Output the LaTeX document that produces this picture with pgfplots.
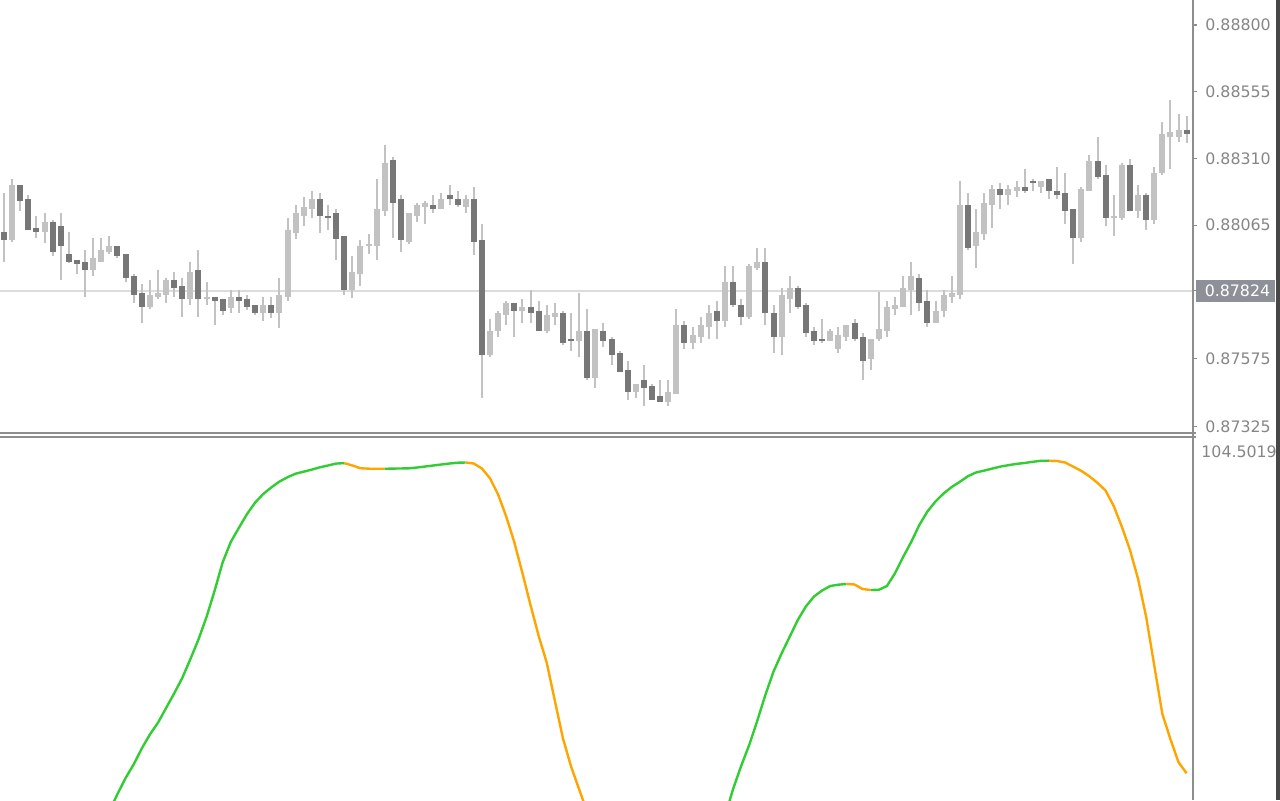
\documentclass[border=0pt]{standalone}
\usepackage{pgfplots}
\pgfplotsset{compat=1.18}
\usepackage{pgfplotstable}
\usepackage{fontspec}
\setmainfont{DejaVu Sans}
\definecolor{bull}{HTML}{C2C2C2}
\definecolor{bear}{HTML}{777777}
\definecolor{wick}{HTML}{C2C2C2}
\definecolor{frame}{HTML}{8E8E8E}
\definecolor{lab}{HTML}{868686}
\definecolor{pline}{HTML}{DCDCDC}
\definecolor{pbox}{HTML}{8D9097}
\definecolor{upc}{HTML}{32CD32}
\definecolor{dnc}{HTML}{FFA500}
\definecolor{strip}{HTML}{474747}

\pgfplotstableread{
n o h l c
1 0.88041 0.88184 0.87931 0.88011
2 0.88011 0.88235 0.88004 0.88213
3 0.88213 0.88213 0.88118 0.88155
4 0.88161 0.88176 0.88047 0.88047
5 0.88055 0.88099 0.88019 0.88041
6 0.88041 0.88111 0.87999 0.88077
7 0.88077 0.88084 0.87952 0.87968
8 0.88062 0.88111 0.87864 0.87990
9 0.87959 0.88040 0.87925 0.87931
10 0.87937 0.87937 0.87886 0.87924
11 0.87930 0.87974 0.87803 0.87902
12 0.87902 0.88018 0.87879 0.87945
13 0.87931 0.88018 0.87931 0.87974
14 0.87967 0.88025 0.87959 0.87989
15 0.87989 0.87989 0.87945 0.87952
16 0.87959 0.87959 0.87858 0.87872
17 0.87879 0.87886 0.87781 0.87810
18 0.87816 0.87849 0.87707 0.87766
19 0.87766 0.87864 0.87758 0.87809
20 0.87803 0.87901 0.87795 0.87816
21 0.87810 0.87871 0.87781 0.87864
22 0.87864 0.87893 0.87803 0.87836
23 0.87842 0.87871 0.87729 0.87795
24 0.87795 0.87930 0.87773 0.87893
25 0.87901 0.87974 0.87729 0.87795
26 0.87795 0.87858 0.87772 0.87803
27 0.87803 0.87803 0.87699 0.87788
28 0.87794 0.87794 0.87735 0.87751
29 0.87760 0.87827 0.87744 0.87803
30 0.87803 0.87827 0.87744 0.87788
31 0.87795 0.87810 0.87754 0.87766
32 0.87772 0.87772 0.87735 0.87744
33 0.87744 0.87803 0.87714 0.87772
34 0.87772 0.87803 0.87723 0.87744
35 0.87744 0.87870 0.87686 0.87809
36 0.87803 0.88090 0.87788 0.88047
37 0.88035 0.88139 0.88013 0.88109
38 0.88099 0.88170 0.88063 0.88131
39 0.88126 0.88191 0.88093 0.88161
40 0.88161 0.88184 0.88035 0.88099
41 0.88099 0.88139 0.88047 0.88093
42 0.88111 0.88124 0.87937 0.88013
43 0.88025 0.88025 0.87809 0.87827
44 0.87827 0.87952 0.87797 0.87894
45 0.87886 0.88011 0.87843 0.87989
46 0.87990 0.88033 0.87959 0.87995
47 0.87989 0.88235 0.87937 0.88125
48 0.88118 0.88360 0.88100 0.88295
49 0.88305 0.88315 0.88019 0.88148
50 0.88161 0.88176 0.87968 0.88011
51 0.88003 0.88111 0.87996 0.88111
52 0.88100 0.88148 0.88077 0.88140
53 0.88133 0.88155 0.88069 0.88148
54 0.88140 0.88176 0.88111 0.88126
55 0.88126 0.88183 0.88126 0.88161
56 0.88176 0.88213 0.88140 0.88161
57 0.88161 0.88191 0.88133 0.88140
58 0.88133 0.88176 0.88111 0.88161
59 0.88161 0.88205 0.87954 0.88004
60 0.88011 0.88069 0.87432 0.87588
61 0.87588 0.87721 0.87582 0.87677
62 0.87677 0.87751 0.87656 0.87744
63 0.87736 0.87788 0.87699 0.87781
64 0.87781 0.87781 0.87656 0.87751
65 0.87751 0.87795 0.87707 0.87766
66 0.87766 0.87827 0.87707 0.87744
67 0.87751 0.87788 0.87677 0.87677
68 0.87677 0.87773 0.87668 0.87736
69 0.87729 0.87781 0.87699 0.87744
70 0.87744 0.87751 0.87625 0.87634
71 0.87647 0.87744 0.87604 0.87641
72 0.87641 0.87817 0.87582 0.87677
73 0.87677 0.87757 0.87497 0.87505
74 0.87505 0.87684 0.87468 0.87684
75 0.87677 0.87705 0.87619 0.87641
76 0.87647 0.87653 0.87552 0.87588
77 0.87597 0.87604 0.87527 0.87527
78 0.87533 0.87566 0.87423 0.87454
79 0.87454 0.87483 0.87432 0.87483
80 0.87497 0.87552 0.87402 0.87468
81 0.87476 0.87482 0.87424 0.87424
82 0.87439 0.87497 0.87417 0.87417
83 0.87417 0.87497 0.87402 0.87454
84 0.87446 0.87757 0.87446 0.87699
85 0.87699 0.87713 0.87612 0.87634
86 0.87634 0.87690 0.87612 0.87662
87 0.87656 0.87727 0.87634 0.87699
88 0.87691 0.87772 0.87648 0.87743
89 0.87750 0.87787 0.87648 0.87713
90 0.87713 0.87915 0.87691 0.87858
91 0.87858 0.87915 0.87765 0.87772
92 0.87772 0.87794 0.87699 0.87729
93 0.87727 0.87923 0.87720 0.87915
94 0.87908 0.87980 0.87901 0.87930
95 0.87930 0.87980 0.87699 0.87743
96 0.87743 0.87772 0.87597 0.87656
97 0.87656 0.87833 0.87590 0.87809
98 0.87795 0.87879 0.87744 0.87835
99 0.87835 0.87842 0.87758 0.87766
100 0.87772 0.87781 0.87656 0.87670
101 0.87677 0.87690 0.87626 0.87641
102 0.87647 0.87721 0.87634 0.87641
103 0.87641 0.87684 0.87641 0.87678
104 0.87612 0.87691 0.87597 0.87662
105 0.87656 0.87699 0.87641 0.87699
106 0.87706 0.87721 0.87641 0.87647
107 0.87655 0.87669 0.87497 0.87567
108 0.87575 0.87647 0.87533 0.87647
109 0.87647 0.87821 0.87641 0.87684
110 0.87678 0.87787 0.87656 0.87765
111 0.87758 0.87803 0.87735 0.87772
112 0.87766 0.87879 0.87766 0.87835
113 0.87827 0.87930 0.87735 0.87879
114 0.87871 0.87886 0.87751 0.87781
115 0.87787 0.87827 0.87692 0.87707
116 0.87707 0.87787 0.87707 0.87750
117 0.87751 0.87827 0.87729 0.87809
118 0.87803 0.87879 0.87781 0.87817
119 0.87810 0.88227 0.87795 0.88139
120 0.88139 0.88183 0.87975 0.87982
121 0.87990 0.88125 0.87909 0.88040
122 0.88034 0.88183 0.88012 0.88147
123 0.88139 0.88213 0.88056 0.88198
124 0.88198 0.88220 0.88125 0.88176
125 0.88176 0.88213 0.88139 0.88198
126 0.88191 0.88227 0.88169 0.88205
127 0.88205 0.88271 0.88183 0.88191
128 0.88227 0.88235 0.88191 0.88220
129 0.88205 0.88227 0.88183 0.88227
130 0.88235 0.88235 0.88161 0.88191
131 0.88191 0.88279 0.88161 0.88176
132 0.88183 0.88257 0.88071 0.88117
133 0.88125 0.88125 0.87924 0.88019
134 0.88019 0.88205 0.88004 0.88198
135 0.88191 0.88323 0.88191 0.88301
136 0.88301 0.88389 0.88235 0.88242
137 0.88249 0.88286 0.88063 0.88093
138 0.88093 0.88176 0.88027 0.88099
139 0.88093 0.88293 0.88085 0.88286
140 0.88286 0.88308 0.88117 0.88117
141 0.88117 0.88213 0.88093 0.88176
142 0.88176 0.88183 0.88049 0.88085
143 0.88085 0.88279 0.88071 0.88257
144 0.88257 0.88444 0.88249 0.88400
145 0.88390 0.88525 0.88271 0.88407
146 0.88390 0.88473 0.88372 0.88415
147 0.88415 0.88466 0.88368 0.88401
}\candles

\begin{document}
\begin{tikzpicture}
\path[use as bounding box] (0pt,0pt) rectangle (640pt,400pt);
\fill[white] (0pt,0pt) rectangle (640pt,400pt);
\begin{scope}
\clip (0pt,0pt) rectangle (640pt,400pt);
% indicator window (south west at origin)
\begin{axis}[scale only axis,
  width=596.5pt, height=181.65pt,
  xmin=0.506, xmax=147.79, ymin=36.35, ymax=104.5019,
  axis line style={draw=none}, xtick=\empty, ytick=\empty, clip=true]
\addplot[upc, line width=1.2pt, line join=round] coordinates {(14,34.23)(15,37.44)(16,40.44)(17,43.01)(18,45.99)(19,48.62)(20,50.83)(21,53.57)(22,56.33)(23,59.22)(24,62.74)(25,66.44)(26,70.66)(27,75.61)(28,80.96)(29,84.77)(30,87.41)(31,89.98)(32,92.14)(33,93.75)(34,94.99)(35,96.08)(36,96.90)(37,97.56)(38,97.94)(39,98.33)(40,98.76)(41,99.10)(42,99.46)(43,99.55)};
\addplot[dnc, line width=1.2pt, line join=round] coordinates {(43,99.55)(44,99.10)(45,98.59)(46,98.50)(47,98.49)(48,98.48)};
\addplot[upc, line width=1.2pt, line join=round] coordinates {(48,98.48)(49,98.52)(50,98.54)(51,98.57)(52,98.72)(53,98.91)(54,99.10)(55,99.29)(56,99.47)(57,99.62)(58,99.66)};
\addplot[dnc, line width=1.2pt, line join=round] coordinates {(58,99.66)(59,99.47)(60,98.54)(61,96.70)(62,93.66)(63,89.53)(64,84.71)(65,78.93)(66,72.93)(67,67.17)(68,62.14)(69,55.01)(70,47.94)(71,42.67)(72,38.37)(73,34.10)};
\addplot[upc, line width=1.2pt, line join=round] coordinates {(90,33.23)(91,38.37)(92,42.71)(93,46.68)(94,51.24)(95,56.08)(96,60.44)(97,63.85)(98,66.98)(99,70.13)(100,72.67)(101,74.52)(102,75.65)(103,76.49)(104,76.74)(105,76.87)};
\addplot[dnc, line width=1.2pt, line join=round] coordinates {(105,76.87)(106,76.78)(107,75.93)(108,75.74)};
\addplot[upc, line width=1.2pt, line join=round] coordinates {(108,75.74)(109,75.78)(110,76.49)(111,78.88)(112,81.93)(113,84.75)(114,87.94)(115,90.47)(116,92.36)(117,93.85)(118,95.07)(119,96.04)(120,97.09)(121,97.79)(122,98.14)(123,98.52)(124,98.89)(125,99.16)(126,99.40)(127,99.57)(128,99.79)(129,99.98)(130,100.00)};
\addplot[dnc, line width=1.2pt, line join=round] coordinates {(130,100.00)(131,99.94)(132,99.66)(133,98.89)(134,98.09)(135,97.07)(136,95.84)(137,94.39)(138,91.50)(139,87.64)(140,83.29)(141,77.86)(142,70.75)(143,61.64)(144,52.52)(145,47.77)(146,43.44)(147,41.36)};
\end{axis}
% price window
\begin{axis}[at={(0pt,183.65pt)}, anchor=south west, scale only axis,
  width=596.5pt, height=216.35pt,
  xmin=0.506, xmax=147.79, ymin=0.87303, ymax=0.88892,
  axis line style={draw=none},
  xtick=\empty,
  ytick={0.87325,0.87575,0.87824,0.88065,0.88310,0.88555,0.88800},
  yticklabels={0.87325,0.87575,,0.88065,0.88310,0.88555,0.88800},
  scaled y ticks=false,
  ytick pos=right, yticklabel pos=right,
  tick align=outside, major tick length=2pt,
  tick style={frame, line width=0.6pt},
  yticklabel style={font=\fontsize{7.9}{9}\selectfont, text=lab, anchor=west, inner sep=0pt, xshift=4pt},
  clip=true]
\addplot[pline, line width=1pt] coordinates {(0.506,0.87824) (147.79,0.87824)};
\addplot[draw=wick, line width=1pt, quiver={u=0, v=\thisrow{h}-\thisrow{l}}] table[x=n, y=l] {\candles};
\addplot[draw=bull, line width=3pt, quiver={u=0, v=\thisrow{c}-\thisrow{o}},
  restrict expr to domain={\thisrow{c}-\thisrow{o}}{0:1}] table[x=n, y=o] {\candles};
\addplot[draw=bear, line width=3pt, quiver={u=0, v=\thisrow{c}-\thisrow{o}},
  restrict expr to domain={\thisrow{c}-\thisrow{o}}{-1:0}] table[x=n, y=o] {\candles};
\end{axis}
% window frames
\draw[frame, line width=0.8pt] (596.4pt,0pt) -- (596.4pt,400pt);
\draw[frame, line width=0.8pt] (0pt,183.65pt) -- (597.8pt,183.65pt);
\draw[frame, line width=0.8pt] (0pt,181.65pt) -- (598.2pt,181.65pt);
% current price label
\fill[pbox] (598pt,248.9pt) rectangle (637.6pt,260pt);
\node[text=white, anchor=west, inner sep=0pt, font=\fontsize{7.9}{9}\selectfont] at (602.2pt,254.45pt) {0.87824};
% indicator max label
\node[text=lab, anchor=west, inner sep=0pt, font=\fontsize{7.9}{9}\selectfont] at (600.5pt,174.15pt) {104.5019};
% scrollbar strip
\fill[strip] (638pt,0pt) rectangle (640pt,400pt);
\end{scope}
\end{tikzpicture}
\end{document}
